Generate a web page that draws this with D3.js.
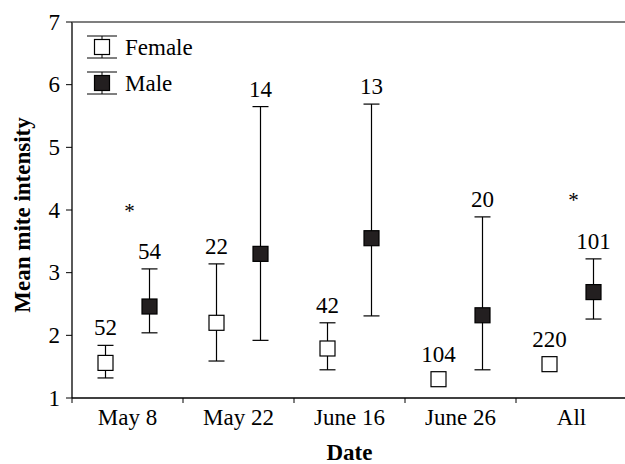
<!DOCTYPE html>
<html>
<head>
<meta charset="utf-8">
<script src="https://cdn.jsdelivr.net/npm/d3@7"></script>
<style>
  body { margin: 0; background: #fff; }
</style>
</head>
<body>
<div id="chart"></div>
<script>
// data
var dates = ["May 8", "May 22", "June 16", "June 26", "All"]
var femaleMean = [1.56, 2.20, 1.79, 1.30, 1.54]
var femaleLow  = [1.32, 1.59, 1.45, 1.30, 1.54]
var femaleHigh = [1.84, 3.14, 2.20, 1.30, 1.54]
var femaleN    = [52, 22, 42, 104, 220]
var maleMean = [2.46, 3.30, 3.55, 2.32, 2.69]
var maleLow  = [2.04, 1.92, 2.31, 1.45, 2.26]
var maleHigh = [3.06, 5.65, 5.69, 3.89, 3.22]
var maleN    = [54, 14, 13, 20, 101]
var stars = [{date: "May 8", y: 4.03}, {date: "All", y: 4.2}]
var yTicks = [1, 2, 3, 4, 5, 6, 7]

var width = 625
var height = 464
var margin = {left: 72, top: 22, bottom: 66}
var fs = 23

var svg = d3.select("#chart")
  .append("svg")
    .attr("width", width)
    .attr("height", height)
    .attr("font-family", "'Liberation Serif', 'Times New Roman', Times, serif")

var x = d3.scaleBand()
    .domain(dates)
    .range([margin.left, margin.left + 111 * 5])

var y = d3.scaleLinear()
    .domain([1, 7])
    .range([height - margin.bottom, margin.top])

var offset = 22
var box = 15
var cap = 8

// axes
svg.append("line")
    .attr("x1", margin.left).attr("x2", margin.left)
    .attr("y1", y(7)).attr("y2", y(1))
    .attr("stroke", "#000").attr("stroke-width", 1.3)
svg.append("line")
    .attr("x1", margin.left).attr("x2", width)
    .attr("y1", y(1)).attr("y2", y(1))
    .attr("stroke", "#000").attr("stroke-width", 1.5)
svg.append("line")
    .attr("x1", margin.left).attr("x2", width)
    .attr("y1", y(7)).attr("y2", y(7))
    .attr("stroke", "#555").attr("stroke-width", 1.3)

svg.selectAll(".ytick")
  .data(yTicks)
  .join("line")
    .attr("x1", margin.left - 6).attr("x2", margin.left)
    .attr("y1", d => y(d)).attr("y2", d => y(d))
    .attr("stroke", "#000")
svg.selectAll(".ylab")
  .data(yTicks)
  .join("text")
    .attr("x", margin.left - 12)
    .attr("y", d => y(d))
    .attr("dy", "0.33em")
    .attr("text-anchor", "end")
    .attr("font-size", fs)
    .text(d => d)

var bounds = dates.map(d => x(d)).concat([x.range()[1]])
svg.selectAll(".xtick")
  .data(bounds)
  .join("line")
    .attr("x1", d => d).attr("x2", d => d)
    .attr("y1", y(1)).attr("y2", y(1) + 5)
    .attr("stroke", "#000")
svg.selectAll(".xlab")
  .data(dates)
  .join("text")
    .attr("x", d => x(d) + x.bandwidth() / 2)
    .attr("y", y(1) + 27)
    .attr("text-anchor", "middle")
    .attr("font-size", fs)
    .text(d => d)

svg.append("text")
    .attr("x", margin.left + 111 * 2.5)
    .attr("y", 460)
    .attr("text-anchor", "middle")
    .attr("font-size", 23)
    .attr("font-weight", "bold")
    .text("Date")
svg.append("text")
    .attr("transform", "translate(30,215) rotate(-90)")
    .attr("text-anchor", "middle")
    .attr("font-size", 23)
    .attr("font-weight", "bold")
    .text("Mean mite intensity")

// series
var series = [
  {name: "Female", fill: "#fff", dx: -offset, mean: femaleMean, low: femaleLow, high: femaleHigh, n: femaleN},
  {name: "Male", fill: "#231f20", dx: offset, mean: maleMean, low: maleLow, high: maleHigh, n: maleN}
]

series.forEach(function(s) {
  var rows = dates.map((d, i) => ({date: d, mean: s.mean[i], low: s.low[i], high: s.high[i], n: s.n[i]}))
  var g = svg.append("g")
  var cx = d => x(d.date) + x.bandwidth() / 2 + s.dx
  var bars = rows.filter(d => d.high > d.low)

  g.selectAll(".stem")
    .data(bars)
    .join("line")
      .attr("x1", cx).attr("x2", cx)
      .attr("y1", d => y(d.high)).attr("y2", d => y(d.low))
      .attr("stroke", "#000").attr("stroke-width", 1.2)
  g.selectAll(".capHi")
    .data(bars)
    .join("line")
      .attr("x1", d => cx(d) - cap).attr("x2", d => cx(d) + cap)
      .attr("y1", d => y(d.high)).attr("y2", d => y(d.high))
      .attr("stroke", "#000").attr("stroke-width", 1.2)
  g.selectAll(".capLo")
    .data(bars)
    .join("line")
      .attr("x1", d => cx(d) - cap).attr("x2", d => cx(d) + cap)
      .attr("y1", d => y(d.low)).attr("y2", d => y(d.low))
      .attr("stroke", "#000").attr("stroke-width", 1.2)
  g.selectAll("rect")
    .data(rows)
    .join("rect")
      .attr("x", d => cx(d) - box / 2)
      .attr("y", d => y(d.mean) - box / 2)
      .attr("width", box).attr("height", box)
      .attr("fill", s.fill)
      .attr("stroke", "#000").attr("stroke-width", 1.2)
  g.selectAll("text")
    .data(rows)
    .join("text")
      .attr("x", cx)
      .attr("y", d => Math.min(y(d.high), y(d.mean) - box / 2) - 10)
      .attr("text-anchor", "middle")
      .attr("font-size", fs)
      .text(d => d.n)
})

svg.selectAll(".star")
  .data(stars)
  .join("text")
    .attr("x", d => x(d.date) + x.bandwidth() / 2 + 2)
    .attr("y", d => y(d.y) + 10)
    .attr("text-anchor", "middle")
    .attr("font-size", 21)
    .text("*")

// legend
var legend = svg.append("g").attr("transform", "translate(102,47)")
series.forEach(function(s, i) {
  var row = legend.append("g").attr("transform", "translate(0," + (i * 36) + ")")
  row.append("line").attr("x1", 0).attr("x2", 0).attr("y1", -11).attr("y2", 11).attr("stroke", "#000")
  row.append("line").attr("x1", -15).attr("x2", 15).attr("y1", -11).attr("y2", -11).attr("stroke", "#000")
  row.append("line").attr("x1", -15).attr("x2", 15).attr("y1", 11).attr("y2", 11).attr("stroke", "#000")
  row.append("rect")
      .attr("x", -box / 2).attr("y", -box / 2)
      .attr("width", box).attr("height", box)
      .attr("fill", s.fill).attr("stroke", "#000").attr("stroke-width", 1.2)
  row.append("text")
      .attr("x", 23).attr("y", 0).attr("dy", "0.33em")
      .attr("font-size", fs)
      .text(s.name)
})
</script>
</body>
</html>
